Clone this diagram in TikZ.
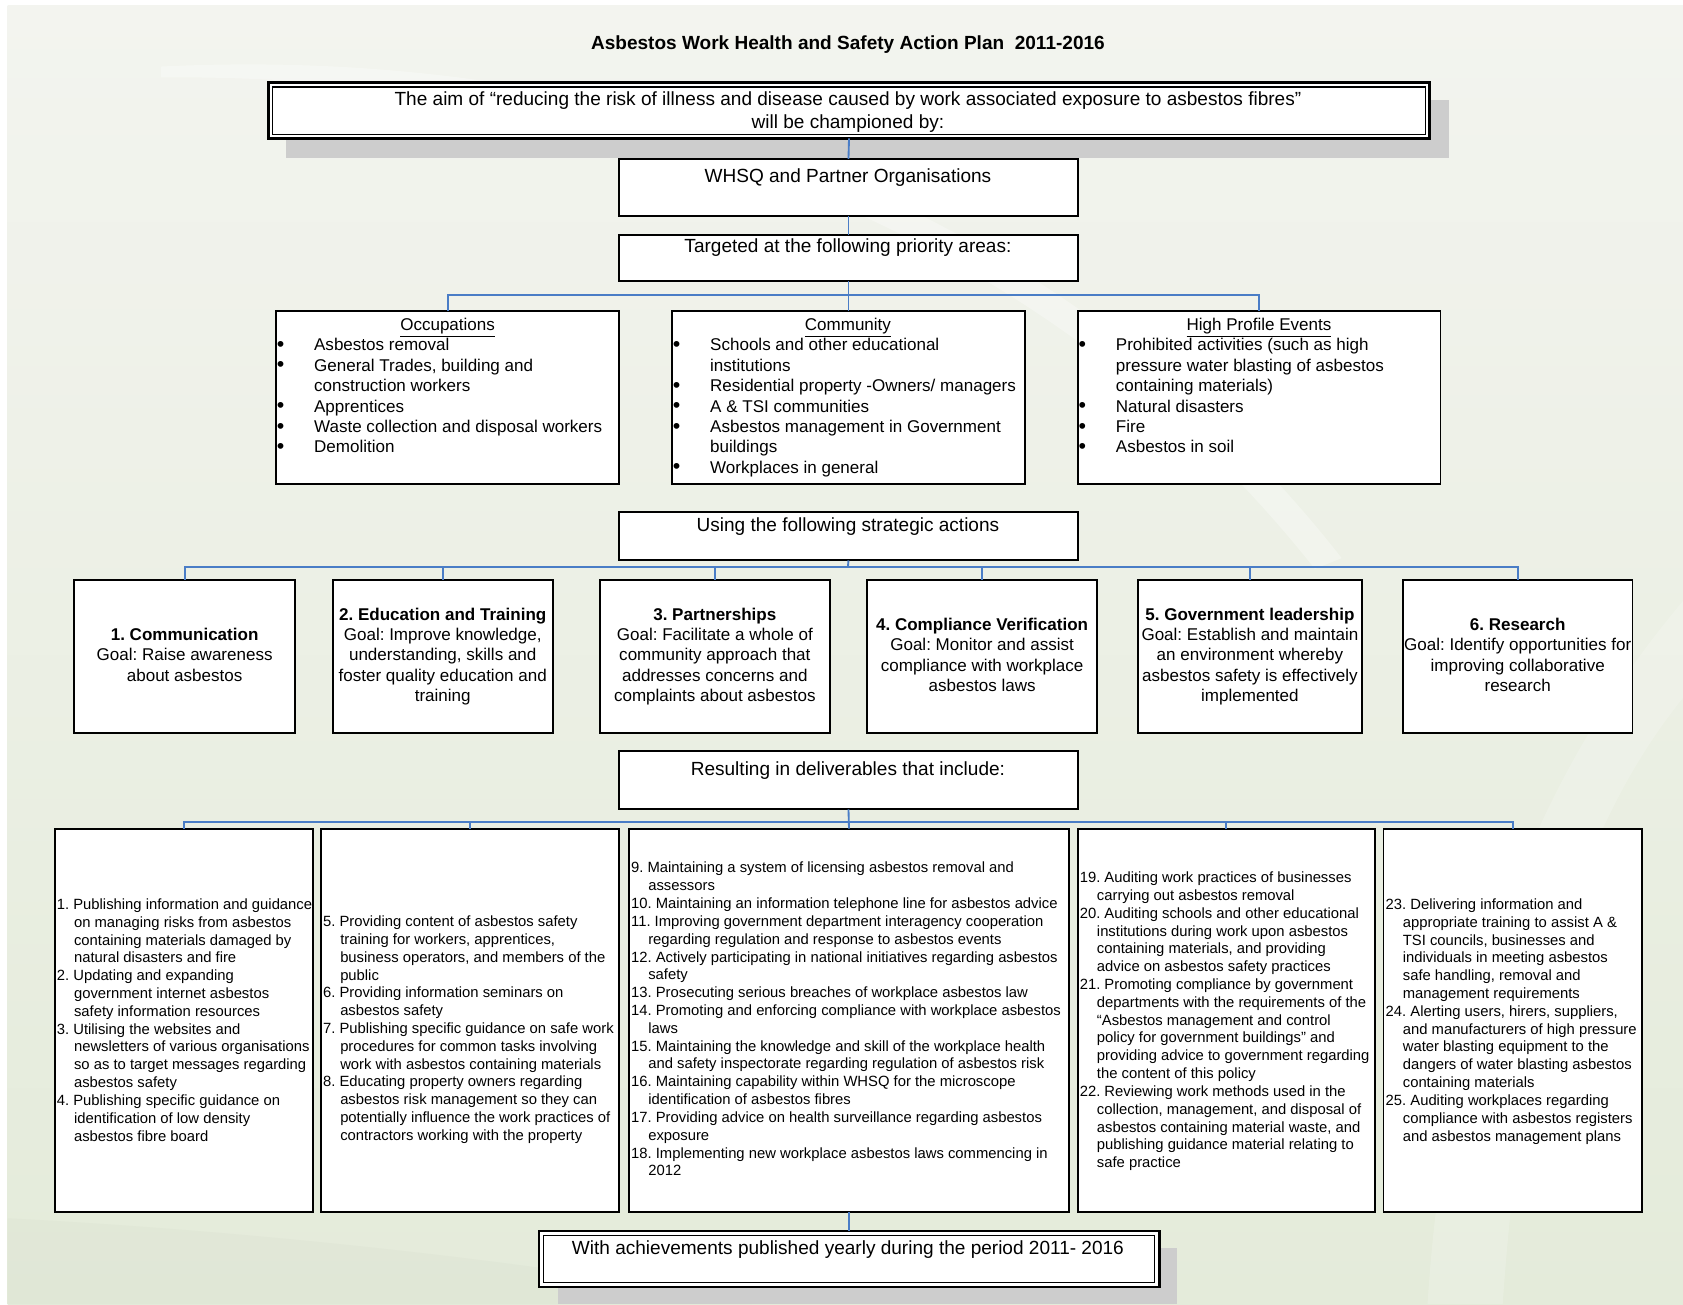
\documentclass[tikz,border=0pt]{standalone}
\usepackage{fontspec}
\setmainfont{Liberation Sans}
\usetikzlibrary{calc}
\frenchspacing
\definecolor{linkblue}{HTML}{4A7DC6}
\definecolor{bgtop}{HTML}{F3F4EF}
\definecolor{bgbot}{HTML}{E4EBDA}
\definecolor{shadowgray}{HTML}{CDCDCD}
\newcommand\mybox[6][]{\node[bx,#1,minimum width={(#4-#2)*0.75pt},minimum height={(#5-#3)*0.75pt}] (#6) at ({(#2+#4)/2},{(#3+#5)/2}) {};}
\newcommand\bul{\makebox[26pt][l]{\raisebox{-0.4pt}{\fontsize{15}{14.25}\selectfont\textbullet}}}
\newcommand\ind{\hspace*{12pt}}
\begin{document}
\frenchspacing
\begin{tikzpicture}[x=0.75pt,y=-0.75pt,
  bx/.style={draw=black, line width=1.3pt, fill=white, inner sep=0pt, outer sep=0pt},
  link/.style={draw=linkblue, line width=1.3pt},
  txt/.style={inner sep=0pt, outer sep=0pt, text=black},
  big/.style={font=\fontsize{13.3}{15.75}\selectfont},
  mid/.style={font=\fontsize{11.9}{14.25}\selectfont},
  sml/.style={font=\fontsize{10.35}{12.45}\selectfont},
]
\useasboundingbox (0,0) rectangle (1568,1215);
\fill[white] (0,0) rectangle (1568,1215);
\shade[top color=bgtop, bottom color=bgbot] (7,5) rectangle (1568,1215);
% faint background swooshes
\fill[white, opacity=0.3] (150,62) .. controls (600,40) and (1000,200) .. (1250,520) -- (1225,530) .. controls (980,220) and (600,70) .. (150,72) -- cycle;
\fill[white, opacity=0.18] (1568,560) .. controls (1450,700) and (1350,900) .. (1330,1215) -- (1400,1215) .. controls (1420,920) and (1480,760) .. (1568,650) -- cycle;
\fill[bgbot!85!black, opacity=0.1] (7,1135) .. controls (300,1150) and (600,1190) .. (700,1215) -- (7,1215) -- cycle;

% shadows
\fill[shadowgray] (266,93) rectangle (1350,147);
\fill[shadowgray] (520,1163) rectangle (1097,1215);

% title
\node[txt, anchor=base, font=\fontsize{13.3}{16}\selectfont\bfseries] (title) at (790,46.4) {Asbestos Work Health and Safety Action Plan\ \ 2011-2016};

% boxes
\mybox[line width=1.8pt]{250}{77}{1332}{129}{aim}
\draw[line width=0.8pt] ($(aim.north west)+(4,4)$) rectangle ($(aim.south east)+(-4,-4)$);
\mybox{577}{148}{1004}{201}{whsq}
\mybox{577}{219}{1004}{262}{targ}
\mybox{257}{290}{577}{451}{occ}
\mybox{626}{290}{955}{451}{com}
\mybox{1004}{290}{1342}{451}{hpe}
\mybox{577}{477}{1004}{522}{strat}
\mybox{69}{540}{275}{683}{s1}
\mybox{310}{540}{515}{683}{s2}
\mybox{559}{540}{773}{683}{s3}
\mybox{808}{540}{1022}{683}{s4}
\mybox{1060}{540}{1269}{683}{s5}
\mybox{1307}{540}{1521}{683}{s6}
\mybox{577}{700}{1004}{754}{res}
\mybox{51}{772}{292}{1129}{d1}
\mybox{299}{772}{577}{1129}{d2}
\mybox{586}{772}{996}{1129}{d3}
\mybox{1004}{772}{1281}{1129}{d4}
\mybox{1289}{772}{1530}{1129}{d5}
\mybox[line width=1.8pt]{502}{1147}{1080}{1199}{fin}
\draw[line width=0.8pt] ($(fin.north west)+(4,4)$) rectangle ($(fin.south east)+(-4,-4)$);

% connectors
\coordinate (busA) at (790,275);
\coordinate (busB) at (790,528);
\coordinate (busC) at (790,766);
\draw[link] (aim.south) -- (whsq.north);
\draw[link] (whsq.south) -- (targ.north);
\draw[link] (targ.south) -- (com.north);
\draw[link] (occ.north) |- (busA) -| (hpe.north);
\draw[link] (strat.south) -- (busB);
\draw[link] (s1.north) |- (busB) -| (s6.north);
\foreach \s in {s2,s3,s4,s5} \draw[link] (\s.north) -- (\s.north |- busB);
\draw[link] (res.south) -- (d3.north);
\draw[link] (d1.north) |- (busC) -| (d5.north);
\foreach \s in {d2,d4} \draw[link] (\s.north) -- (\s.north |- busC);
\draw[link] (d3.south) -- (fin.north);

% top texts
\node[txt, big, anchor=base] (aimT) at (790,98.6) {\begin{tabular}[t]{@{}c@{}}The aim of “reducing the risk of illness and disease caused by work associated exposure to asbestos fibres”\\ will be championed by:\end{tabular}};
\node[txt, big, anchor=base] (whsqT) at (790,169.6) {WHSQ and Partner Organisations};
\node[txt, big, anchor=base] (targT) at (790,235.6) {Targeted at the following priority areas:};
\node[txt, big, anchor=base] (stratT) at (790,495.6) {Using the following strategic actions};
\node[txt, big, anchor=base] (resT) at (790,722.6) {Resulting in deliverables that include:};
\node[txt, big, anchor=base] (finT) at (790,1168.6) {With achievements published yearly during the period 2011- 2016};

% priority areas
\node[txt, mid, anchor=base] (occH) at (417,308) {\underline{Occupations}};
\node[txt, mid, anchor=base] (comH) at (790,308) {\underline{Community}};
\node[txt, mid, anchor=base] (hpeH) at (1173,308) {\underline{High Profile Events}};
\node[txt, mid, anchor=base west] (occL) at (258,327) {\begin{tabular}[t]{@{}l@{}l@{}}
\bul & Asbestos removal\\
\bul & General Trades, building and\\
 & construction workers\\
\bul & Apprentices\\
\bul & Waste collection and disposal workers\\
\bul & Demolition
\end{tabular}};
\node[txt, mid, anchor=base west] (comL) at (627,327) {\begin{tabular}[t]{@{}l@{}l@{}}
\bul & Schools and other educational\\
 & institutions\\
\bul & Residential property -Owners/ managers\\
\bul & A \& TSI communities\\
\bul & Asbestos management in Government\\
 & buildings\\
\bul & Workplaces in general
\end{tabular}};
\node[txt, mid, anchor=base west] (hpeL) at (1005,327) {\begin{tabular}[t]{@{}l@{}l@{}}
\bul & Prohibited activities (such as high\\
 & pressure water blasting of asbestos\\
 & containing materials)\\
\bul & Natural disasters\\
\bul & Fire\\
\bul & Asbestos in soil
\end{tabular}};

% strategic actions
\node[txt, mid] (s1T) at (172,612) {\begin{tabular}{@{}c@{}}\textbf{1. Communication}\\ Goal: Raise awareness\\ about asbestos\end{tabular}};
\node[txt, mid] (s2T) at (412.5,612) {\begin{tabular}{@{}c@{}}\textbf{2. Education and Training}\\ Goal: Improve knowledge,\\ understanding, skills and\\ foster quality education and\\ training\end{tabular}};
\node[txt, mid] (s3T) at (666,612) {\begin{tabular}{@{}c@{}}\textbf{3. Partnerships}\\ Goal: Facilitate a whole of\\ community approach that\\ addresses concerns and\\ complaints about asbestos\end{tabular}};
\node[txt, mid] (s4T) at (915,612) {\begin{tabular}{@{}c@{}}\textbf{4. Compliance Verification}\\ Goal: Monitor and assist\\ compliance with workplace\\ asbestos laws\end{tabular}};
\node[txt, mid] (s5T) at (1164.5,612) {\begin{tabular}{@{}c@{}}\textbf{5. Government leadership}\\ Goal: Establish and maintain\\ an environment whereby\\ asbestos safety is effectively\\ implemented\end{tabular}};
\node[txt, mid] (s6T) at (1414,612) {\begin{tabular}{@{}c@{}}\textbf{6. Research}\\ Goal: Identify opportunities for\\ improving collaborative\\ research\end{tabular}};

% deliverables
\node[txt, sml, anchor=base west] (d1T) at (53,847.3) {\begin{tabular}[t]{@{}l@{}}
1. Publishing information and guidance\\
\ind on managing risks from asbestos\\
\ind containing materials damaged by\\
\ind natural disasters and fire\\
2. Updating and expanding\\
\ind government internet asbestos\\
\ind safety information resources\\
3. Utilising the websites and\\
\ind newsletters of various organisations\\
\ind so as to target messages regarding\\
\ind asbestos safety\\
4. Publishing specific guidance on\\
\ind identification of low density\\
\ind asbestos fibre board
\end{tabular}};
\node[txt, sml, anchor=base west] (d2T) at (301,863.3) {\begin{tabular}[t]{@{}l@{}}
5. Providing content of asbestos safety\\
\ind training for workers, apprentices,\\
\ind business operators, and members of the\\
\ind public\\
6. Providing information seminars on\\
\ind asbestos safety\\
7. Publishing specific guidance on safe work\\
\ind procedures for common tasks involving\\
\ind work with asbestos containing materials\\
8. Educating property owners regarding\\
\ind asbestos risk management so they can\\
\ind potentially influence the work practices of\\
\ind contractors working with the property
\end{tabular}};
\node[txt, sml, anchor=base west] (d3T) at (588,813.3) {\begin{tabular}[t]{@{}l@{}}
9. Maintaining a system of licensing asbestos removal and\\
\ind assessors\\
10. Maintaining an information telephone line for asbestos advice\\
11. Improving government department interagency cooperation\\
\ind regarding regulation and response to asbestos events\\
12. Actively participating in national initiatives regarding asbestos\\
\ind safety\\
13. Prosecuting serious breaches of workplace asbestos law\\
14. Promoting and enforcing compliance with workplace asbestos\\
\ind laws\\
15. Maintaining the knowledge and skill of the workplace health\\
\ind and safety inspectorate regarding regulation of asbestos risk\\
16. Maintaining capability within WHSQ for the microscope\\
\ind identification of asbestos fibres\\
17. Providing advice on health surveillance regarding asbestos\\
\ind exposure\\
18. Implementing new workplace asbestos laws commencing in\\
\ind 2012
\end{tabular}};
\node[txt, sml, anchor=base west] (d4T) at (1006,822.3) {\begin{tabular}[t]{@{}l@{}}
19. Auditing work practices of businesses\\
\ind carrying out asbestos removal\\
20. Auditing schools and other educational\\
\ind institutions during work upon asbestos\\
\ind containing materials, and providing\\
\ind advice on asbestos safety practices\\
21. Promoting compliance by government\\
\ind departments with the requirements of the\\
\ind “Asbestos management and control\\
\ind policy for government buildings” and\\
\ind providing advice to government regarding\\
\ind the content of this policy\\
22. Reviewing work methods used in the\\
\ind collection, management, and disposal of\\
\ind asbestos containing material waste, and\\
\ind publishing guidance material relating to\\
\ind safe practice
\end{tabular}};
\node[txt, sml, anchor=base west] (d5T) at (1291,847.3) {\begin{tabular}[t]{@{}l@{}}
23. Delivering information and\\
\ind appropriate training to assist A \&\\
\ind TSI councils, businesses and\\
\ind individuals in meeting asbestos\\
\ind safe handling, removal and\\
\ind management requirements\\
24. Alerting users, hirers, suppliers,\\
\ind and manufacturers of high pressure\\
\ind water blasting equipment to the\\
\ind dangers of water blasting asbestos\\
\ind containing materials\\
25. Auditing workplaces regarding\\
\ind compliance with asbestos registers\\
\ind and asbestos management plans
\end{tabular}};
\end{tikzpicture}
\end{document}
